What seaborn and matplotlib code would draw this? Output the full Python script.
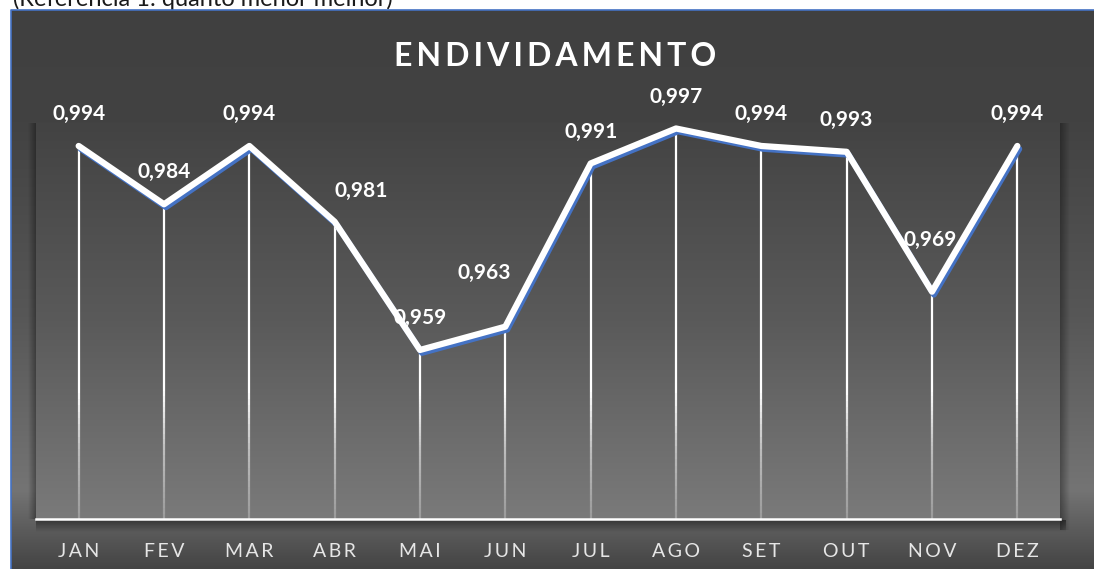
import numpy as np
import pandas as pd
import seaborn as sns
import matplotlib.pyplot as plt
from matplotlib.colors import LinearSegmentedColormap
from matplotlib.collections import LineCollection
from matplotlib.transforms import offset_copy

meses = ['JAN', 'FEV', 'MAR', 'ABR', 'MAI', 'JUN', 'JUL', 'AGO', 'SET', 'OUT', 'NOV', 'DEZ']
valores = [0.994, 0.984, 0.994, 0.981, 0.959, 0.963, 0.991, 0.997, 0.994, 0.993, 0.969, 0.994]
titulo = 'ENDIVIDAMENTO'
nota = '(Referência 1: quanto menor melhor)'

# deslocamento dos rotulos (pontos), como no original
desloc = [(0, 23), (0, 23), (0, 23), (19, 22), (0, 23), (-15, 39),
          (0, 23), (0, 23), (0, 23), (0, 23), (-1, 37), (0, 23)]

df = pd.DataFrame({'pos': np.arange(len(meses)), 'mes': meses, 'valor': valores})

sns.set_theme(style='white')
plt.rcParams['font.family'] = ['Lato', 'DejaVu Sans']


def espacar(txt, sep='\u2009'):
    return sep.join(list(txt))


fig = plt.figure(figsize=(10.94, 5.69), dpi=100)
fig.patch.set_facecolor('white')

# fundo em coordenadas de pixel
bg = fig.add_axes([0, 0, 1, 1])
grad = np.linspace(0, 1, 256).reshape(-1, 1)
outer = LinearSegmentedColormap.from_list('outer', [
    (0, '#404040'), (0.2, '#424242'), (0.55, '#575757'),
    (0.86, '#747474'), (0.93, '#5c5c5c'), (1, '#444444')])
inner = LinearSegmentedColormap.from_list('inner', [
    (0, '#434343'), (0.5, '#5a5a5a'), (1, '#7a7a7a')])
bg.imshow(grad, cmap=outer, extent=[11, 1094, 569, 10], aspect='auto')
bg.imshow(grad, cmap=inner, extent=[36, 1060, 519, 123], aspect='auto')

# sombras do painel interno
sh = np.zeros((1, 32, 4))
sh[..., 3] = np.linspace(0, 0.35, 32)
bg.imshow(sh, extent=[28, 36, 519, 123], aspect='auto')
bg.imshow(sh[:, ::-1], extent=[1060, 1070, 530, 123], aspect='auto')
shv = np.zeros((32, 1, 4))
shv[..., 3] = np.linspace(0.45, 0, 32).reshape(-1, 1)
bg.imshow(shv, extent=[36, 1066, 532, 520], aspect='auto')

bg.plot([11, 11, 1094], [569, 10, 10], color='#4472c4', lw=1.2)
bg.set_xlim(0, 1094)
bg.set_ylim(569, 0)
bg.axis('off')

# grafico
ax = fig.add_axes([36 / 1094, 1 - 519 / 569, 1024 / 1094, 408 / 569])
ax.patch.set_alpha(0)
ymin = 0.93

segs, cores = [], []
for x, v in zip(df['pos'], df['valor']):
    ys = np.linspace(v, ymin, 60)
    for a, b in zip(ys[:-1], ys[1:]):
        segs.append([(x, a), (x, b)])
        alpha = np.interp((a + b) / 2, [ymin, 0.942, 0.952], [0.25, 0.55, 1.0])
        cores.append((1, 1, 1, alpha))
ax.add_collection(LineCollection(segs, colors=cores, linewidths=1.6, zorder=2))

sombra = offset_copy(ax.transData, fig=fig, x=2, y=-3, units='dots')
sns.lineplot(data=df, x='pos', y='valor', ax=ax, color='#4472c4', lw=4.2,
             transform=sombra, solid_joinstyle='round', solid_capstyle='round', zorder=3)
sns.lineplot(data=df, x='pos', y='valor', ax=ax, color='white', lw=4.5,
             solid_joinstyle='round', solid_capstyle='round', zorder=4)

for (x, v), d in zip(zip(df['pos'], df['valor']), desloc):
    ax.annotate(f'{v:.3f}'.replace('.', ','), (x, v), xytext=d,
                textcoords='offset points', ha='center', va='center',
                color='white', fontsize=15, fontweight='bold', zorder=5)

ax.set_xlim(-0.5, len(meses) - 0.5)
ax.set_ylim(ymin, 1.0)
ax.set_xticks(df['pos'], labels=[espacar(m) for m in meses])
ax.set_yticks([])
ax.tick_params(axis='x', length=0, pad=17, labelsize=14, labelcolor='#e6e6e6')
ax.set_xlabel('')
ax.set_ylabel('')
for s in ['top', 'left', 'right']:
    ax.spines[s].set_visible(False)
ax.spines['bottom'].set_color('white')
ax.spines['bottom'].set_linewidth(1.8)

fig.text(555 / 1094, 1 - 56 / 569, espacar(titulo), ha='center', va='center',
         color='white', fontsize=23, fontweight='bold')
fig.text(13 / 1094, 1 - 6 / 569, nota, ha='left', va='baseline',
         color='#1a1a1a', fontsize=17, zorder=-1)

plt.savefig('out.png', dpi=100)
